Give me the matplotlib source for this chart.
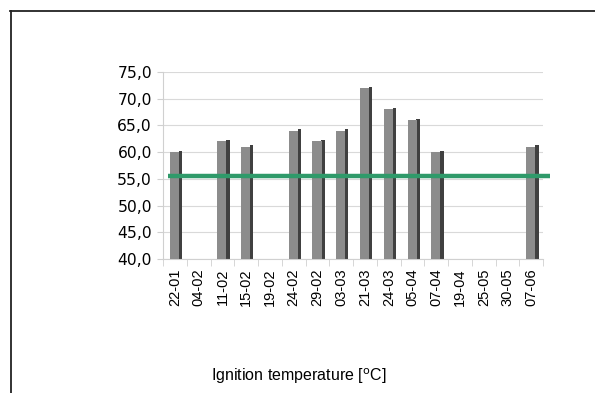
import matplotlib.pyplot as plt
import numpy as np
from matplotlib.lines import Line2D

dates = ["22-01", "04-02", "11-02", "15-02", "19-02", "24-02", "29-02", "03-03",
         "21-03", "24-03", "05-04", "07-04", "19-04", "25-05", "30-05", "07-06"]
temps = [60, np.nan, 62, 61, np.nan, 64, 62, 64,
         72, 68, 66, 60, np.nan, np.nan, np.nan, 61]
reference = 55.5
yticks = [40, 45, 50, 55, 60, 65, 70, 75]

fig = plt.figure(figsize=(5.95, 3.93), dpi=100)
ax = fig.add_axes([0.274, 0.341, 0.639, 0.476])

x = np.arange(len(dates))
vals = np.array(temps, dtype=float)
base = 40
# front face and dark side to fake the 3D look
ax.bar(x - 0.02, vals - base, bottom=base, width=0.38, color="#8c8c8c", zorder=3)
ax.bar(x + 0.235, vals - base + 0.25, bottom=base, width=0.14, color="#404040", zorder=2)

ax.plot([-0.29, 15.8], [reference, reference], color="#2f9a6a", lw=3.2,
        solid_capstyle="butt", clip_on=False, zorder=5)

ax.set_xlim(-0.5, 15.5)
ax.set_ylim(40, 75)
ax.set_yticks(yticks)
ax.set_yticklabels([f"{v:.1f}".replace(".", ",") for v in yticks], fontsize=11.2,
                   family="DejaVu Sans")
ax.set_xticks(x)
ax.set_xticklabels(dates, rotation=90, fontsize=10.5, family="Liberation Sans")
ax.set_xticks(np.arange(-0.5, 16, 1), minor=True)
ax.tick_params(axis="x", which="major", length=0, pad=7)
ax.tick_params(axis="x", which="minor", length=5, color="#d0d0d0")
ax.tick_params(axis="y", length=4, color="#d0d0d0", pad=4)

ax.grid(axis="y", color="#d9d9d9", lw=0.8, zorder=0)
for s in ["top", "right"]:
    ax.spines[s].set_visible(False)
for s in ["left", "bottom"]:
    ax.spines[s].set_color("#d0d0d0")

fig.text(0.503, 0.03, r"Ignition temperature [$^{\mathrm{o}}$C]", ha="center",
         fontsize=11.5, family="Liberation Sans")

# frame lines around the picture
fig.add_artist(Line2D([10 / 595, 1], [1 - 11 / 393, 1 - 11 / 393], color="#222222", lw=1.3))
fig.add_artist(Line2D([11 / 595, 11 / 595], [0, 1 - 11 / 393], color="#222222", lw=1.3))

fig.savefig("out.png", dpi=100)
plt.close()
